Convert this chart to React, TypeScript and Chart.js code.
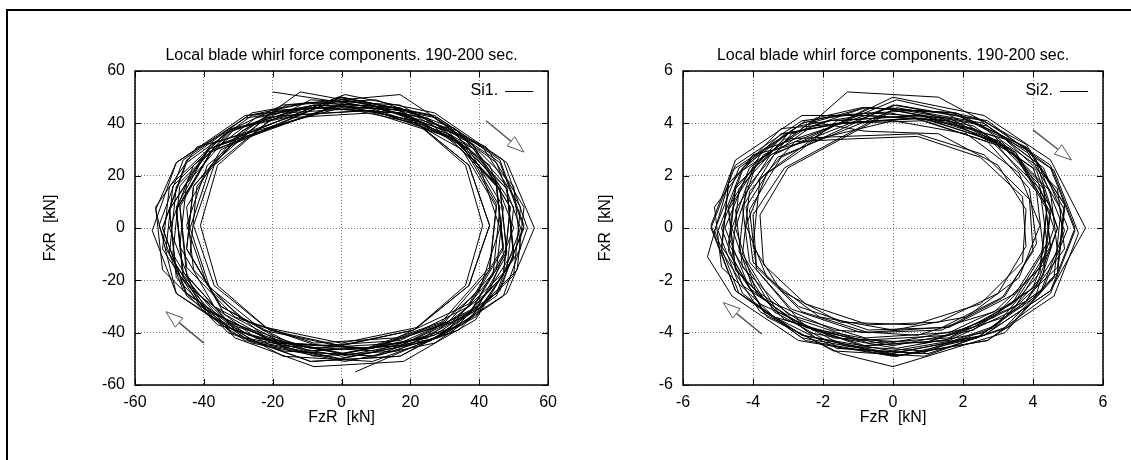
import React, { useEffect, useRef } from "react";
import { Chart, registerables } from "chart.js";

Chart.register(...registerables);

const titleText = "Local blade whirl force components. 190-200 sec.";
const xTitleText = "FzR  [kN]";
const yTitleText = "FxR  [kN]";
const si1Label = "Si1.";
const si2Label = "Si2.";
const si1Ticks = [-60, -40, -20, 0, 20, 40, 60];
const si2Ticks = [-6, -4, -2, 0, 2, 4, 6];

// Si1 orbit: [FzR, FxR] in kN
const si1Orbit: [number, number][] = [
  [-20, 52],
  [0, 48], [25, 42], [43, 24], [50, 0], [43, -24], [25, -42], [0, -48], [-25, -42], [-43, -24], [-50, 0], [-43, 24], [-25, 42],
  [-8, 47], [19, 45], [41, 31], [52, 8], [50, -18], [34, -39], [10, -49], [-17, -47], [-39, -33], [-50, -10], [-48, 16], [-32, 37],
  [-16, 44], [8, 46], [31, 36], [45, 17], [47, -7], [37, -29], [16, -42], [-8, -44], [-31, -34], [-45, -15], [-47, 9], [-37, 31],
  [-1, 50], [26, 43], [46, 25], [53, 0], [45, -26], [26, -43], [-1, -50], [-28, -43], [-48, -25], [-55, -1], [-48, 25], [-28, 43],
  [-7, 46], [17, 44], [37, 30], [47, 8], [45, -16], [31, -36], [9, -46], [-15, -44], [-35, -30], [-45, -8], [-43, 16], [-29, 36],
  [-12, 52], [9, 47], [33, 36], [48, 15], [50, -11], [39, -34], [17, -49], [-9, -51], [-33, -40], [-48, -19], [-50, 7], [-39, 30],
  [-1, 47], [21, 41], [37, 24], [43, 1], [37, -22], [21, -39], [-1, -45], [-23, -39], [-39, -22], [-45, 1], [-39, 24], [-23, 41],
  [-8, 47], [19, 45], [42, 31], [53, 8], [51, -16], [35, -37], [10, -47], [-17, -45], [-40, -31], [-51, -8], [-49, 16], [-33, 37],
  [-17, 47], [17, 51], [32, 38], [46, 16], [48, -10], [38, -34], [17, -49], [-9, -51], [-32, -40], [-46, -18], [-48, 8], [-38, 32],
  [0, 49], [28, 42], [48, 25], [56, 0], [48, -25], [28, -42], [0, -49], [-28, -42], [-48, -25], [-54, 7], [-48, 25], [-28, 42],
  [-8, 46], [16, 44], [35, 30], [45, 8], [43, -16], [30, -36], [8, -46], [-16, -44], [-35, -30], [-45, -8], [-43, 16], [-30, 36],
  [-16, 47], [10, 49], [33, 38], [48, 16], [50, -11], [39, -35], [18, -51], [-8, -53], [-31, -42], [-46, -20], [-48, 7], [-37, 31],
  [0, 47], [21, 41], [36, 24], [41, 1], [36, -22], [21, -39], [0, -45], [-21, -39], [-36, -22], [-41, 1], [-36, 24], [-21, 41],
  [-10, 46], [17, 44], [39, 30], [50, 8], [48, -16], [32, -36], [8, -46], [-19, -44], [-41, -30], [-52, -8], [-50, 16], [-34, 36],
  [-16, 45], [8, 47], [31, 37], [45, 16], [47, -10], [37, -33], [16, -47], [-8, -49], [-31, -39], [-45, -18], [-47, 8], [-37, 31],
  [1, 51], [27, 44], [47, 26], [54, 0], [47, -26], [27, -44], [1, -51], [-26, -44], [-45, -26], [-52, 0], [-45, 26], [-26, 44],
  [-9, 48], [15, 46], [35, 32], [45, 9], [43, -15], [29, -36], [7, -46], [-17, -44], [-37, -30], [-47, -7], [-45, 17], [-31, 38],
  [-17, 42], [9, 44], [33, 34], [48, 15], [50, -9], [39, -31], [17, -44], [-9, -46], [-33, -36], [-48, -17], [-50, 7], [-39, 29],
  [1, 48], [24, 42], [40, 24], [46, 0], [40, -24], [24, -42], [1, -48], [-22, -42], [-38, -24], [-44, 0], [-38, 24], [-22, 42],
  [-17, 43], [9, 45], [32, 35], [46, 15], [48, -9], [38, -31], [17, -45], [-9, -47], [-32, -37], [-46, -17], [-48, 7], [-38, 29],
  [0, 50], [26, 43], [45, 25], [52, 0], [45, -25], [26, -43], [0, -50], [-26, -43], [-45, -25], [-52, 0], [-45, 25], [-26, 43],
  [-7, 47], [17, 45], [36, 31], [46, 8], [44, -18], [31, -39], [9, -49], [-15, -47], [-34, -33], [-44, -10], [-42, 16], [-29, 37],
  [-19, 45], [8, 47], [34, 37], [50, 16], [52, -8], [40, -31], [17, -45], [-10, -47], [-36, -37], [-52, -16], [-54, 8], [-42, 31],
  [0, 46], [22, 40], [37, 24], [43, 1], [37, -22], [22, -38], [0, -44], [-22, -38], [-37, -22], [-43, 1], [-37, 24], [-22, 40],
  [-9, 49], [17, 47], [38, 32], [49, 8], [47, -18], [32, -40], [9, -51], [-17, -49], [-38, -34], [-49, -10], [-47, 16], [-32, 38],
  [-15, 43], [9, 45], [31, 35], [45, 16], [47, -8], [37, -30], [17, -43], [-7, -45], [-29, -35], [-43, -16], [-45, 8], [-35, 30],
  [0, 50], [27, 43], [46, 26], [53, 1], [46, -24], [27, -41], [0, -48], [-27, -41], [-46, -24], [-53, 1], [-46, 26], [-27, 43],
  [-9, 48], [17, 46], [38, 31], [49, 8], [47, -18], [32, -39], [4, -55],
];

// Si2 orbit: [FzR, FxR] in kN
const si2Orbit: [number, number][] = [
  [0, 4.5], [2.3, 3.9], [4.0, 2.3], [4.6, 0], [4.0, -2.3], [2.3, -3.9], [0, -4.5], [-2.3, -3.9], [-4.0, -2.3], [-4.6, 0], [-4.0, 2.3], [-2.3, 3.9],
  [-0.8, 4.6], [1.8, 4.4], [3.9, 3.0], [4.9, 0.7], [4.7, -1.7], [3.3, -3.8], [1.0, -4.8], [-1.6, -4.6], [-3.7, -3.2], [-4.7, -0.9], [-4.5, 1.5], [-3.1, 3.6],
  [-1.6, 4.0], [0.6, 4.2], [2.7, 3.3], [3.9, 1.5], [4.1, -0.6], [3.2, -2.6], [1.4, -3.8], [-0.9, -4.0], [-2.9, -3.1], [-4.1, -1.3], [-4.3, 0.8], [-3.4, 2.8],
  [0, 5.0], [2.6, 4.3], [4.5, 2.6], [5.5, 0], [4.5, -2.4], [2.6, -4.1], [0, -4.8], [-2.6, -4.1], [-4.5, -2.4], [-5.2, 0.1], [-4.5, 2.6], [-2.6, 4.3],
  [-0.7, 4.3], [1.6, 4.1], [3.5, 2.8], [4.5, 0.6], [4.3, -1.8], [3.0, -3.7], [0.9, -4.7], [-1.4, -4.5], [-3.3, -3.2], [-4.3, -1.0], [-4.1, 1.4], [-2.8, 3.3],
  [-1.3, 3.4], [0.7, 3.5], [2.5, 2.7], [3.7, 1.2], [3.8, -0.7], [3.0, -2.5], [1.3, -3.6], [-0.7, -3.7], [-2.5, -2.9], [-3.7, -1.4], [-3.8, 0.5], [-3.0, 2.3],
  [-0.1, 4.4], [2.3, 3.8], [4.1, 2.2], [4.7, 0], [4.1, -2.2], [2.3, -3.8], [-0.1, -4.4], [-2.5, -3.8], [-4.3, -2.2], [-4.9, 0], [-4.3, 2.2], [-2.5, 3.8],
  [-1.3, 5.2], [1.3, 5.0], [3.8, 3.2], [4.9, 0.9], [4.7, -1.7], [3.2, -3.8], [0.9, -4.9], [-1.7, -4.7], [-3.8, -3.2], [-4.9, -0.9], [-4.7, 1.7], [-3.2, 3.8],
  [-1.4, 4.0], [0.9, 4.1], [2.9, 3.2], [4.2, 1.5], [4.4, -0.6], [3.5, -2.5], [1.6, -3.8], [-0.7, -3.9], [-2.7, -3.0], [-4.0, -1.3], [-4.2, 0.8], [-3.3, 2.7],
  [0, 4.5], [2.7, 3.9], [4.6, 2.2], [5.3, -0.2], [4.6, -2.6], [2.7, -4.3], [0, -4.9], [-2.7, -4.3], [-4.6, -2.6], [-5.3, -1.1], [-4.6, 2.2], [-2.7, 3.9],
  [-0.9, 4.3], [1.5, 4.1], [3.5, 2.9], [4.5, 0.8], [4.3, -1.4], [2.9, -3.2], [0.7, -4.1], [-1.7, -3.9], [-3.7, -2.7], [-4.7, -0.6], [-4.5, 1.6], [-3.1, 3.4],
  [-1.4, 3.5], [0.7, 3.6], [2.6, 2.8], [3.9, 1.1], [4.0, -0.9], [3.1, -2.7], [1.4, -3.9], [-0.7, -4.0], [-2.6, -3.2], [-3.9, -1.5], [-4.0, 0.5], [-3.1, 2.3],
  [0.1, 4.6], [2.6, 4.0], [4.3, 2.3], [5.0, 0], [4.3, -2.3], [2.6, -4.0], [0.1, -4.6], [-2.4, -4.0], [-4.1, -2.3], [-4.8, 0], [-4.1, 2.3], [-2.4, 4.0],
  [-0.8, 4.6], [1.5, 4.4], [3.4, 3.0], [4.4, 0.7], [4.2, -1.7], [2.9, -3.8], [0.8, -4.8], [-1.5, -4.6], [-3.4, -3.2], [-4.4, -0.9], [-4.2, 1.5], [-2.9, 3.6],
  [-1.8, 4.1], [0.8, 4.3], [3.2, 3.4], [4.7, 1.5], [4.9, -0.8], [3.8, -2.8], [1.6, -4.1], [-1.0, -4.3], [-3.4, -3.4], [-4.9, -1.5], [-5.1, 0.8], [-4.0, 2.8],
  [0, 4.1], [2.1, 3.6], [3.6, 2.1], [4.2, 0.1], [3.6, -1.9], [2.1, -3.4], [0, -3.9], [-2.1, -3.4], [-3.6, -1.9], [-4.2, 0.1], [-3.6, 2.1], [-2.1, 3.6],
  [-0.7, 4.6], [1.7, 4.4], [3.8, 3.0], [4.8, 0.7], [4.6, -1.9], [3.2, -4.0], [0, -5.3], [-1.5, -4.8], [-3.6, -3.4], [-4.6, -1.1], [-4.4, 1.5], [-3.0, 3.6],
  [-1.6, 4.0], [0.8, 4.2], [3.0, 3.3], [4.3, 1.5], [4.5, -0.7], [3.5, -2.8], [1.6, -4.0], [-0.8, -4.2], [-3.0, -3.3], [-4.3, -1.5], [-4.5, 0.7], [-3.5, 2.8],
  [-0.1, 4.6], [2.4, 4.0], [4.2, 2.3], [4.9, -0.1], [4.2, -2.5], [2.4, -4.2], [-0.1, -4.8], [-2.6, -4.2], [-4.4, -2.5], [-5.1, -0.1], [-4.4, 2.3], [-2.6, 4.0],
  [-1.7, 4.3], [0.7, 4.5], [2.9, 3.5], [4.3, 1.6], [4.5, -0.8], [3.5, -3.0], [1.5, -4.3], [-0.9, -4.5], [-3.1, -3.5], [-4.5, -1.6], [-4.7, 0.8], [-3.7, 3.0],
  [0.1, 4.7], [2.7, 4.1], [4.5, 2.3], [5.2, -0.1], [4.5, -2.5], [2.7, -4.3], [0.1, -4.9], [-2.5, -4.3], [-4.3, -2.5], [-5.0, -0.1], [-4.3, 2.3], [-2.5, 4.1],
  [-0.8, 3.7], [1.3, 3.6], [3.0, 2.4], [3.8, 0.7], [3.7, -1.3], [2.5, -2.9], [0.6, -3.7], [-1.5, -3.6], [-3.2, -2.4], [-4.0, -0.7], [-3.8, 1.9], [-2.7, 2.9],
  [-1.6, 4.1], [0.8, 4.3], [3.1, 3.3], [4.5, 1.4], [4.7, -0.9], [3.7, -3.0], [1.6, -4.3], [-0.8, -4.5], [-3.1, -3.5], [-4.5, -1.6], [-4.7, 0.7], [-3.7, 2.8],
  [0.1, 4.9], [2.4, 4.2], [4.1, 2.5], [4.7, 0], [4.1, -2.5], [2.4, -4.2], [0.1, -4.9], [-2.2, -4.2], [-3.9, -2.5], [-4.5, 0], [-3.9, 2.5], [-2.2, 4.2],
  [-0.9, 4.6], [1.7, 4.4], [3.8, 3.1], [4.9, 0.9], [4.7, -1.5], [3.2, -3.4], [0.9, -4.4], [-1.7, -4.2], [-3.8, -2.9], [-4.9, -0.7], [-4.7, 1.7], [-3.2, 3.6],
  [-1.4, 4.0], [0.9, 4.2], [2.9, 3.3], [4.1, 1.4], [4.3, -0.9], [3.4, -2.9], [1.6, -4.2], [-0.7, -4.4], [-2.7, -3.5], [-3.9, -1.6], [-4.1, 0.7], [-3.2, 2.7],
  [0, 4.7], [2.6, 4.1], [4.5, 2.4], [5.2, 0], [4.5, -2.4], [2.6, -4.1], [0, -4.7], [-2.6, -4.1], [-4.5, -2.4], [-5.2, 0], [-4.5, 2.4], [-2.6, 4.1],
  [-0.7, 4.4], [1.6, 4.2], [3.5, 2.9], [4.4, 0.8], [4.2, -1.5], [2.9, -3.4], [0.9, -4.4],
];

// Rotation-direction arrows: [startX, startY, tipX, tipY] in data units
const si1Arrows = [
  [42, 41, 53, 29],
  [-40, -44, -51, -32],
];
const si2Arrows = [
  [4.0, 3.75, 5.1, 2.6],
  [-3.75, -4.05, -4.85, -2.85],
];

const FONT = '"Liberation Sans", Arial, Helvetica, sans-serif';

const decorPlugin = {
  id: "decor",
  afterDraw(chart: any, _args: any, opts: any) {
    const { ctx, chartArea: a, scales } = chart;
    const xs = scales.x;
    const ys = scales.y;
    ctx.save();

    // inward ticks on all four sides
    ctx.strokeStyle = "#000";
    ctx.lineWidth = 1;
    ctx.beginPath();
    for (const v of opts.ticks) {
      const px = Math.round(xs.getPixelForValue(v)) + 0.5;
      ctx.moveTo(px, a.bottom);
      ctx.lineTo(px, a.bottom - 6);
      ctx.moveTo(px, a.top);
      ctx.lineTo(px, a.top + 6);
      const py = Math.round(ys.getPixelForValue(v)) + 0.5;
      ctx.moveTo(a.left, py);
      ctx.lineTo(a.left + 6, py);
      ctx.moveTo(a.right, py);
      ctx.lineTo(a.right - 6, py);
    }
    ctx.stroke();

    // frame
    ctx.lineWidth = 1.5;
    ctx.strokeRect(a.left, a.top, a.right - a.left, a.bottom - a.top);

    // title
    ctx.fillStyle = "#000";
    ctx.font = `16px ${FONT}`;
    ctx.textAlign = "center";
    ctx.textBaseline = "middle";
    ctx.fillText(opts.title, (a.left + a.right) / 2, a.top - 15);

    // legend (text then line sample)
    const ly = a.top + 20;
    ctx.textAlign = "right";
    ctx.fillText(opts.label, a.right - 50, ly);
    ctx.lineWidth = 1;
    ctx.beginPath();
    ctx.moveTo(a.right - 43, Math.round(ly) + 0.5);
    ctx.lineTo(a.right - 15, Math.round(ly) + 0.5);
    ctx.stroke();

    // arrows
    for (const [sx, sy, tx, ty] of opts.arrows) {
      const x0 = xs.getPixelForValue(sx);
      const y0 = ys.getPixelForValue(sy);
      const x1 = xs.getPixelForValue(tx);
      const y1 = ys.getPixelForValue(ty);
      const len = Math.hypot(x1 - x0, y1 - y0);
      const ux = (x1 - x0) / len;
      const uy = (y1 - y0) / len;
      const h = 17;
      const w = 6;
      const bx = x1 - ux * h;
      const by = y1 - uy * h;
      ctx.strokeStyle = "#555";
      ctx.lineWidth = 1.5;
      ctx.beginPath();
      ctx.moveTo(x0, y0);
      ctx.lineTo(bx, by);
      ctx.stroke();
      ctx.lineWidth = 1;
      ctx.beginPath();
      ctx.moveTo(x1, y1);
      ctx.lineTo(bx - uy * w, by + ux * w);
      ctx.lineTo(bx + uy * w, by - ux * w);
      ctx.closePath();
      ctx.fillStyle = "#fff";
      ctx.fill();
      ctx.stroke();
    }
    ctx.restore();
  },
};

type PanelProps = {
  orbit: [number, number][];
  ticks: number[];
  label: string;
  arrows: number[][];
  left: number;
  width: number;
  yAxisWidth: number;
  rightPad: number;
  yTitlePad: number;
};

function Panel(p: PanelProps) {
  const ref = useRef<HTMLCanvasElement | null>(null);
  useEffect(() => {
    if (!ref.current) return;
    const tickFont = { family: FONT, size: 16 };
    const gridOpts = { color: "#777", lineWidth: 1, drawTicks: false };
    const borderOpts = { display: false, dash: [1, 2] };
    const setTicks = (s: any) => {
      s.ticks = p.ticks.map((v) => ({ value: v }));
    };
    const chart = new Chart(ref.current, {
      type: "scatter",
      data: {
        datasets: [
          {
            label: p.label,
            data: p.orbit.map(([x, y]) => ({ x, y })),
            showLine: true,
            borderColor: "#000",
            borderWidth: 1,
            pointRadius: 0,
            pointHoverRadius: 0,
            fill: false,
            tension: 0,
          },
        ],
      },
      options: {
        responsive: false,
        animation: false,
        events: [],
        devicePixelRatio: 1,
        layout: { padding: { top: 71, right: p.rightPad, left: 0, bottom: 0 } },
        plugins: {
          legend: { display: false },
          tooltip: { enabled: false },
          decor: { title: titleText, label: p.label, ticks: p.ticks, arrows: p.arrows },
        } as any,
        scales: {
          x: {
            type: "linear",
            min: p.ticks[0],
            max: p.ticks[p.ticks.length - 1],
            afterBuildTicks: setTicks,
            afterFit: (s: any) => {
              s.height = 75;
            },
            grid: gridOpts,
            border: borderOpts,
            ticks: { color: "#000", font: tickFont, padding: 8, maxRotation: 0 },
            title: {
              display: true,
              text: xTitleText,
              color: "#000",
              font: tickFont,
              padding: { top: 0, bottom: 33 },
            },
          },
          y: {
            type: "linear",
            min: p.ticks[0],
            max: p.ticks[p.ticks.length - 1],
            afterBuildTicks: setTicks,
            afterFit: (s: any) => {
              s.width = p.yAxisWidth;
            },
            grid: gridOpts,
            border: borderOpts,
            ticks: { color: "#000", font: tickFont, padding: 10 },
            title: {
              display: true,
              text: yTitleText,
              color: "#000",
              font: tickFont,
              padding: { top: p.yTitlePad, bottom: 0 },
            },
          },
        },
      } as any,
      plugins: [decorPlugin],
    });
    return () => chart.destroy();
  }, []);
  return (
    <canvas
      ref={ref}
      width={p.width}
      height={460}
      style={{ position: "absolute", left: p.left, top: 0, width: p.width, height: 460 }}
    />
  );
}

export default function App() {
  return (
    <div
      style={{
        position: "absolute",
        left: 0,
        top: 0,
        width: 1131,
        height: 460,
        overflow: "hidden",
        background: "#fff",
      }}
    >
      <div
        style={{
          position: "absolute",
          left: 6,
          top: 9,
          width: 1200,
          height: 600,
          borderLeft: "2px solid #000",
          borderTop: "2px solid #000",
        }}
      />
      <Panel
        orbit={si1Orbit}
        ticks={si1Ticks}
        label={si1Label}
        arrows={si1Arrows}
        left={0}
        width={565}
        yAxisWidth={135}
        rightPad={10}
        yTitlePad={41}
      />
      <Panel
        orbit={si2Orbit}
        ticks={si2Ticks}
        label={si2Label}
        arrows={si2Arrows}
        left={565}
        width={566}
        yAxisWidth={118}
        rightPad={28}
        yTitlePad={31}
      />
    </div>
  );
}
